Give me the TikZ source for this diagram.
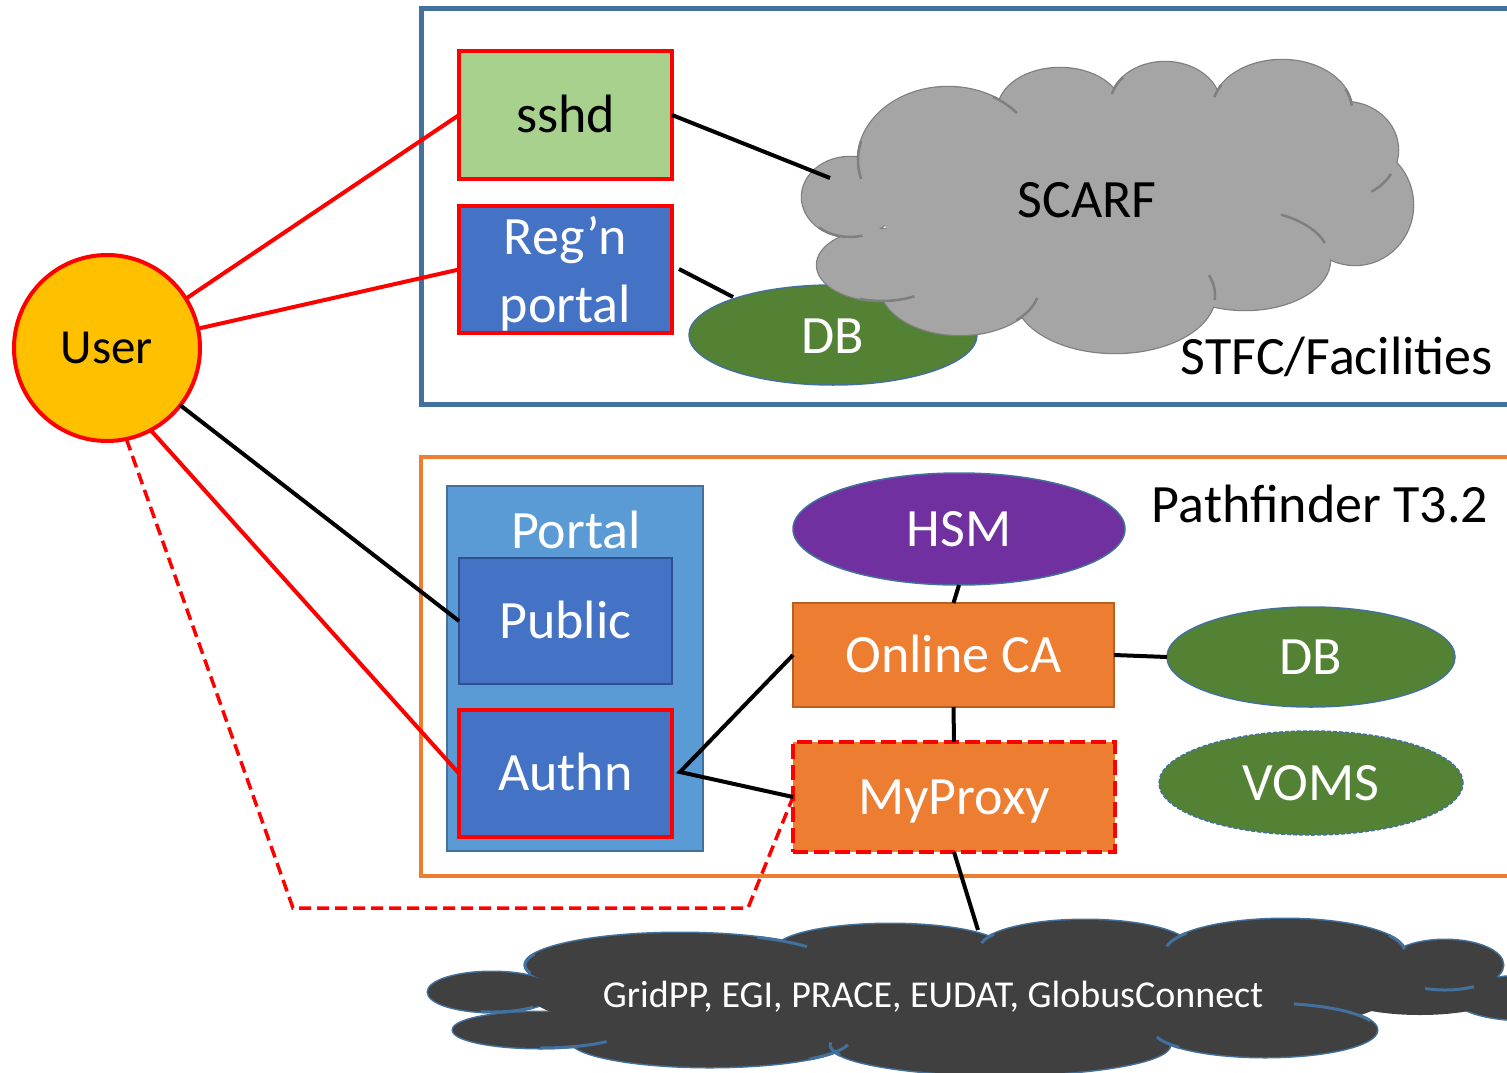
\documentclass[tikz,border=0pt]{standalone}
\usepackage{fontspec}
\setmainfont{Carlito}
\usetikzlibrary{shapes.geometric}
\definecolor{frameblue}{HTML}{41719C}
\definecolor{frameorange}{HTML}{ED7D31}
\definecolor{boxgreen}{HTML}{A9D18E}
\definecolor{boxblue}{HTML}{4472C4}
\definecolor{portalblue}{HTML}{5B9BD5}
\definecolor{dbgreen}{HTML}{548235}
\definecolor{hsmpurple}{HTML}{7030A0}
\definecolor{userfill}{HTML}{FFC000}
\definecolor{cloudgray}{HTML}{A5A5A5}
\definecolor{cloudedge}{HTML}{7F7F7F}
\definecolor{griddark}{HTML}{404040}
\definecolor{caedge}{HTML}{B85F22}
\definecolor{pubedge}{HTML}{2F528F}
\begin{document}
\begin{tikzpicture}[x=1pt,y=-1pt,
  every node/.style={inner sep=0pt, outer sep=0pt},
  bigtxt/.style={font=\fontsize{54}{64}\selectfont, text height=34pt, text depth=0pt},
  redbox/.style={rectangle, draw=red, line width=4pt, bigtxt},
  dbell/.style={ellipse, fill=dbgreen, draw=frameblue, line width=1.5pt, text=white, bigtxt},
  orbox/.style={rectangle, fill=frameorange, text=white, bigtxt},
  redline/.style={draw=red, line width=4pt},
  blkline/.style={draw=black, line width=4pt},
  scarfedge/.style={draw=cloudedge, line width=2.5pt},
  gridedge/.style={draw=frameblue, line width=3pt},
]
\useasboundingbox (0,0) rectangle (1507,1073);
% frames
\draw[frameblue, line width=5pt] (421,9) rectangle (1540,404);
\draw[frameorange, line width=4pt] (421,457) rectangle (1540,876);
% STFC content
\node[redbox, fill=boxgreen, minimum width=213pt, minimum height=128pt] (sshd) at (565.5,115) {sshd};
\node[rectangle, draw=red, line width=4pt, fill=boxblue, minimum width=213pt, minimum height=127pt] (regn) at (565.5,269.5) {};
\node[text=white, align=center, font=\fontsize{54}{68}\selectfont] (regnt) at (565.5,274) {Reg’n\\portal};
\node[dbell, minimum width=288pt, minimum height=100pt] (db1) at (833,335) {};
\node[text=white, bigtxt] (db1t) at (833,336) {DB};
% SCARF cloud
\foreach \cx/\cy/\rx/\ry in {850/197/48/40, 882/265/65/36, 948/160/90/73, 1060/110/62/42, 1165/105/55/43, 1282/110/70/50, 1345/150/53/48, 1355/205/58/60, 1245/260/85/50, 1115/295/100/58, 960/285/80/50}
  \draw[scarfedge, fill=cloudgray] (\cx,\cy) ellipse [x radius=\rx, y radius=\ry];
\foreach \cx/\cy/\rx/\ry in {850/197/48/40, 882/265/65/36, 948/160/90/73, 1060/110/62/42, 1165/105/55/43, 1282/110/70/50, 1345/150/53/48, 1355/205/58/60, 1245/260/85/50, 1115/295/100/58, 960/285/80/50, 1110/205/230/100}
  \fill[cloudgray] (\cx,\cy) ellipse [x radius=\rx, y radius=\ry];
\foreach \cx/\cy/\rx/\ry/\aa/\ab in {850/197/48/40/75/130, 948/160/90/73/165/195, 882/265/65/36/60/110, 948/160/90/73/-60/-40, 1165/105/55/43/-165/-140, 1282/110/70/50/-165/-150, 1282/110/70/50/-25/-5, 1345/150/53/48/30/60, 1245/260/85/50/-65/-20, 1115/295/100/58/-20/5, 960/285/80/50/15/45}
  \draw[scarfedge] ({\cx+\rx*cos(\aa)},{\cy+\ry*sin(\aa)}) arc[start angle=\aa, end angle=\ab, x radius=\rx, y radius=\ry];
\coordinate (scarf) at (1108,207);
\node[bigtxt] (scarft) at (1087,200) {SCARF};
\node[bigtxt] (stfc) at (1337,357) {STFC/Facilities};
% Pathfinder content
\node[rectangle, fill=portalblue, draw=frameblue, line width=2pt, minimum width=256pt, minimum height=365pt] (portal) at (575,668.5) {};
\node[text=white, bigtxt] (portalt) at (576,531) {Portal};
\node[rectangle, fill=boxblue, draw=pubedge, line width=2pt, text=white, bigtxt, minimum width=213pt, minimum height=126pt] (public) at (565.5,621) {Public};
\node[redbox, fill=boxblue, text=white, minimum width=213pt, minimum height=127pt] (authn) at (565.5,773.5) {Authn};
\node[ellipse, fill=hsmpurple, draw=frameblue, line width=1.5pt, text=white, bigtxt, minimum width=332pt, minimum height=112pt] (hsm) at (959,529) {HSM};
\node[orbox, draw=caedge, line width=2pt, minimum width=321pt, minimum height=104pt] (ca) at (953.5,655) {Online CA};
\node[dbell, minimum width=288pt, minimum height=100pt] (db2) at (1311,657) {DB};
\node[orbox, draw=red, line width=4pt, dash pattern=on 15pt off 6pt, minimum width=322pt, minimum height=110pt] (myproxy) at (954,797) {MyProxy};
\node[dbell, dash pattern=on 4pt off 2pt, minimum width=304pt, minimum height=104pt] (voms) at (1311,783) {VOMS};
\node[bigtxt] (pathf) at (1320,505) {Pathfinder T3.2};
% grid cloud
\foreach \cx/\cy/\rx/\ry in {492/992/64/20, 540/1030/87/18, 680/965/155/32, 890/950/115/26, 1085/948/105/28, 1285/952/120/33, 1445/965/58/25, 1525/998/70/22, 1265/1030/112/27, 710/1040/140/27, 1000/1045/170/30}
  \draw[gridedge, fill=griddark] (\cx,\cy) ellipse [x radius=\rx, y radius=\ry];
\foreach \cx/\cy/\rx/\ry in {492/992/64/20, 540/1030/87/18, 680/965/155/32, 890/950/115/26, 1085/948/105/28, 1285/952/120/33, 1445/965/58/25, 1525/998/70/22, 1265/1030/112/27, 710/1040/140/27, 1000/1045/170/30, 960/995/430/55, 1420/990/90/25}
  \fill[griddark] (\cx,\cy) ellipse [x radius=\rx, y radius=\ry];
\foreach \cx/\cy/\rx/\ry/\aa/\ab in {492/992/64/20/50/100, 680/965/155/32/165/200, 540/1030/87/18/40/90, 680/965/155/32/-60/-35, 710/1040/140/27/10/45, 1000/1045/170/30/160/185, 1085/948/105/28/-170/-150, 1285/952/120/33/-170/-145, 1285/952/120/33/-30/-5, 1445/965/58/25/60/110, 1265/1030/112/27/-75/-20, 1265/1030/112/27/140/165}
  \draw[gridedge] ({\cx+\rx*cos(\aa)},{\cy+\ry*sin(\aa)}) arc[start angle=\aa, end angle=\ab, x radius=\rx, y radius=\ry];
\coordinate (grid) at (960,995);
\node[text=white, font=\fontsize{38}{44}\selectfont, text height=24pt, text depth=0pt] (gridt) at (933,995) {GridPP, EGI, PRACE, EUDAT, GlobusConnect};
% user
\node[circle, fill=userfill, draw=red, line width=4pt, minimum size=186pt, font=\fontsize{49}{58}\selectfont, text height=31pt, text depth=0pt] (user) at (107,348) {User};
% connectors
\draw[redline] (user.32) -- (sshd.west);
\draw[redline] (user.12) -- (regn.west);
\draw[blkline] (user.-38) -- (public.west);
\draw[redline] (user.-62) -- (authn.west);
\coordinate (dj1) at (293,908);
\coordinate (dj2) at (748,908);
\draw[redline, line width=3.5pt, dash pattern=on 12pt off 6pt] (user.-78) -- (dj1) -- (dj2) -- (myproxy.west);
\coordinate (sc) at (830,178);
\draw[blkline] (sshd.east) -- (sc);
\coordinate (rj) at (679,269);
\coordinate (dbt) at (733,297);
\draw[blkline] (rj) -- (dbt);
\coordinate (aj) at (680,772);
\draw[blkline] (ca.west) -- (aj) -- (myproxy.west);
\draw[blkline] (hsm.south) -- (ca.north);
\draw[blkline] (ca.east) -- (db2.west);
\draw[blkline] (ca.south) -- (myproxy.north);
\coordinate (gc) at (978,930);
\draw[blkline] (myproxy.south) -- (gc);
\end{tikzpicture}
\end{document}
